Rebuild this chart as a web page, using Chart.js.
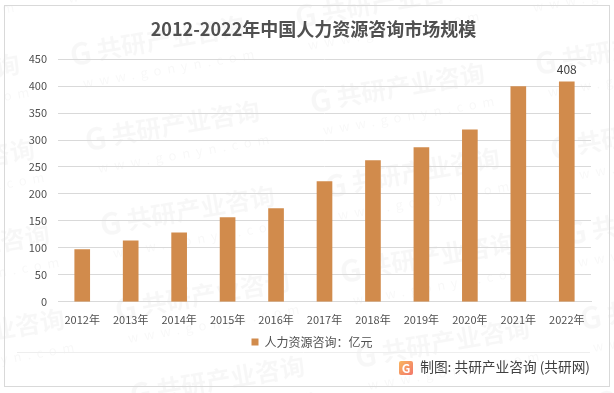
<!DOCTYPE html>
<html>
<head>
<meta charset="utf-8">
<script src="https://cdn.jsdelivr.net/npm/chart.js@4/dist/chart.umd.min.js"></script>
<style>
  html, body { margin: 0; padding: 0; background: #fff; }
  #box { width: 614px; height: 393px; }
</style>
</head>
<body>
<div id="box"><canvas id="marketChart" width="614" height="393"></canvas></div>
<script>
const FONT = '"Noto Sans CJK SC", "Noto Sans", sans-serif';

const years = ['2012年', '2013年', '2014年', '2015年', '2016年', '2017年', '2018年', '2019年', '2020年', '2021年', '2022年'];
const marketSize = [97, 113, 128, 156, 173, 223, 262, 286, 319, 399, 408];
const labelledYears = ['2022年'];

// Faint company stamp repeated behind the chart
const watermark = {
  id: 'watermark',
  beforeDraw(chart) {
    const c = chart.ctx;
    for (let col = -1; col <= 3; col++) {
      for (let row = -1; row <= 5; row++) {
        const x = 70 + row * 15 + col * 225;
        const y = 55 + row * 85 - col * 38;
        c.save();
        c.translate(x, y);
        c.rotate(-0.17);
        c.fillStyle = 'rgba(0,0,0,0.032)';
        c.textBaseline = 'middle';
        c.font = 'bold 30px ' + FONT;
        c.fillText('G', 0, 0);
        c.font = 'bold 25px ' + FONT;
        c.fillText('共研产业咨询', 27, 0);
        c.font = '13px ' + FONT;
        c.letterSpacing = '6px';
        c.fillStyle = 'rgba(0,0,0,0.03)';
        c.fillText('www.gonyn.com', 8, 30);
        c.restore();
      }
    }
  }
};

// Outer frame, footer rule, logo and source line
const frame = {
  id: 'frame',
  afterDraw(chart) {
    const c = chart.ctx;
    c.save();
    c.strokeStyle = '#d9d9d9';
    c.lineWidth = 1;
    c.strokeRect(4.5, 5.5, 605, 381);
    c.strokeStyle = '#eeeeee';
    c.beginPath();
    c.moveTo(17, 352.5);
    c.lineTo(590, 352.5);
    c.stroke();

    const g = c.createLinearGradient(399, 361, 413, 375);
    g.addColorStop(0, '#f9b65f');
    g.addColorStop(1, '#f2766a');
    c.fillStyle = g;
    c.beginPath();
    c.roundRect(399, 361, 14, 14, 2);
    c.fill();
    c.fillStyle = '#fff';
    c.font = 'bold 12px ' + FONT;
    c.textAlign = 'center';
    c.textBaseline = 'middle';
    c.fillText('G', 406, 368);

    c.fillStyle = '#404040';
    c.font = '13.7px ' + FONT;
    c.textAlign = 'right';
    c.fillText('制图: 共研产业咨询 (共研网)', 590, 367);
    c.restore();
  }
};

// Value label above the bars that carry one
const barLabels = {
  id: 'barLabels',
  afterDatasetsDraw(chart) {
    const c = chart.ctx;
    const bars = chart.getDatasetMeta(0).data;
    c.save();
    c.fillStyle = '#404040';
    c.font = '12px ' + FONT;
    c.textAlign = 'center';
    c.textBaseline = 'bottom';
    years.forEach((year, i) => {
      if (labelledYears.includes(year)) {
        c.fillText(String(marketSize[i]), bars[i].x, bars[i].y - 6);
      }
    });
    c.restore();
  }
};

// Legend and title sit a little right of the middle of the frame
const blockShift = {
  id: 'blockShift',
  afterLayout(chart) {
    chart.legend.left += 25;
    chart.legend.top += 2;
    chart.titleBlock.left += 14;
    chart.titleBlock.right += 14;
  }
};

new Chart(document.getElementById('marketChart'), {
  type: 'bar',
  data: {
    labels: years,
    datasets: [{
      label: '人力资源咨询：亿元',
      data: marketSize,
      backgroundColor: '#d18b4c',
      barThickness: 15
    }]
  },
  options: {
    responsive: false,
    animation: false,
    layout: { padding: { left: 8, right: 23, top: 0, bottom: 37 } },
    plugins: {
      title: {
        display: true,
        text: '2012-2022年中国人力资源咨询市场规模',
        color: '#505050',
        font: { family: FONT, size: 18, weight: 'bold' },
        padding: { top: 18, bottom: 19.5 }
      },
      legend: {
        position: 'bottom',
        labels: {
          usePointStyle: true,
          pointStyle: 'rect',
          boxWidth: 7,
          boxHeight: 7,
          color: '#505050',
          font: { family: FONT, size: 12 },
          padding: 5
        }
      },
      tooltip: { enabled: false }
    },
    scales: {
      x: {
        grid: { display: false },
        border: { color: '#d9d9d9' },
        ticks: { color: '#505050', font: { family: FONT, size: 11 }, padding: 3, maxRotation: 0, autoSkip: false }
      },
      y: {
        min: 0,
        max: 450,
        afterFit(scale) { scale.width = 50; },
        grid: { color: '#d9d9d9', drawTicks: false },
        border: { display: false },
        ticks: { stepSize: 50, color: '#505050', font: { family: FONT, size: 11 }, padding: 11 }
      }
    }
  },
  plugins: [watermark, frame, barLabels, blockShift]
});
</script>
</body>
</html>
